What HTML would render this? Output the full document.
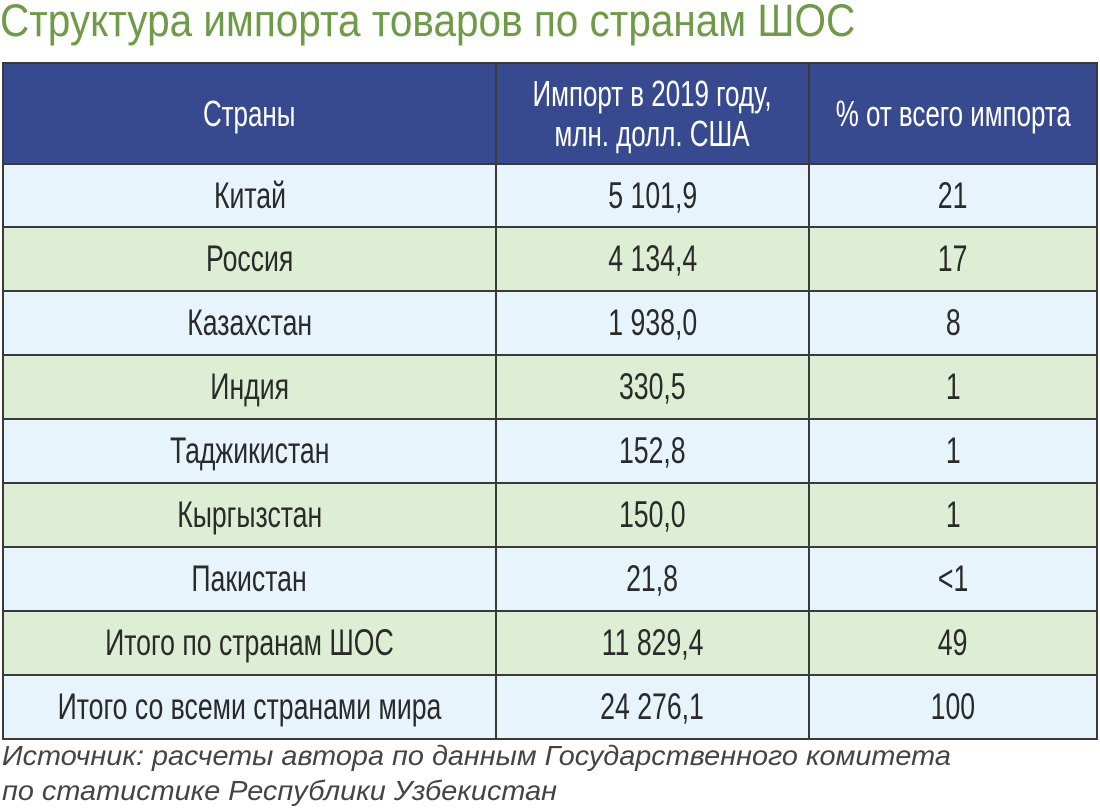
<!DOCTYPE html>
<html><head><meta charset="utf-8"><style>
body{margin:0;width:1100px;height:809px;background:#fff;overflow:hidden;position:relative;font-family:"Liberation Sans Narrow","Liberation Sans",sans-serif}
.t{position:absolute;left:0;top:-5px;font-size:45px;color:#6f9a48;white-space:nowrap;transform:scaleX(.9);transform-origin:left top}
.row{position:absolute;left:2px;width:1096px;display:flex;border-bottom:2px solid #3a3a3a;box-sizing:border-box}
.c{display:flex;align-items:center;justify-content:center;border-right:2px solid #3a3a3a;box-sizing:border-box;font-size:37px;color:#2a2a2a;white-space:nowrap}
.c span{display:inline-block;transform:scaleX(.72)}
.c1{width:495px;border-left:2px solid #3a3a3a}.c2{width:313px}.c3{width:288px}
.h .c{color:#fff;font-size:36px;line-height:40px;text-align:center}
.b{background:#e8f4fb}.g{background:#deeed4}
.f{position:absolute;left:2px;font-size:28px;font-style:italic;color:#444;white-space:nowrap;transform:scaleX(1.03);transform-origin:left top}
</style></head><body>
<div class="t">Структура импорта товаров по странам ШОС</div>
<div class="row h" style="top:62px;height:103px;background:#374a8f;border-top:2px solid #3a3a3a">
<div class="c c1"><span>Страны</span></div>
<div class="c c2"><span>Импорт в 2019 году,<br>млн. долл. США</span></div>
<div class="c c3"><span>% от всего импорта</span></div>
</div>
<div id="rows"></div>
<div class="f" style="top:740px">Источник: расчеты автора по данным Государственного комитета</div>
<div class="f" style="top:775px">по статистике Республики Узбекистан</div>
<script>
const countries=["Китай","Россия","Казахстан","Индия","Таджикистан","Кыргызстан","Пакистан","Итого по странам ШОС","Итого со всеми странами мира"];
const imports=["5 101,9","4 134,4","1 938,0","330,5","152,8","150,0","21,8","11 829,4","24 276,1"];
const shares=["21","17","8","1","1","1","<1","49","100"];
const tops=[165,228,292,356,420,484,548,612,676,740];
const host=document.getElementById('rows');
countries.forEach((name,i)=>{
 const r=document.createElement('div');
 r.className='row '+(i%2===0?'b':'g');
 r.style.top=tops[i]+'px';r.style.height=(tops[i+1]-tops[i])+'px';
 
 
 [[name,'c1','country-cell'],[imports[i],'c2','import-cell'],[shares[i],'c3','share-cell']].forEach(([txt,cls,nm])=>{
  const c=document.createElement('div');c.className='c '+cls;
  
  
  const s=document.createElement('span');s.textContent=txt;c.appendChild(s);r.appendChild(c);
 });
 host.appendChild(r);
});
</script>
</body></html>
